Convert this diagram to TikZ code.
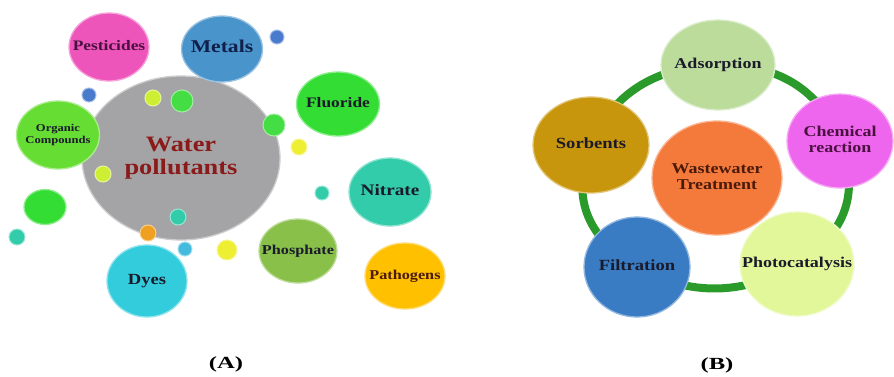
\documentclass[tikz,border=0pt]{standalone}
\usepackage{fontspec}
\setmainfont{Liberation Serif}
\usepackage{graphicx}
\usetikzlibrary{shapes.geometric,backgrounds}
\definecolor{cGray}{HTML}{A4A4A6}
\definecolor{cPest}{HTML}{EE55BB}
\definecolor{cMetal}{HTML}{4A94CC}
\definecolor{cFluor}{HTML}{33DD33}
\definecolor{cOrg}{HTML}{66DD33}
\definecolor{cNitr}{HTML}{33CCAA}
\definecolor{cPhos}{HTML}{88C04A}
\definecolor{cDyes}{HTML}{33CCDD}
\definecolor{cPath}{HTML}{FFC000}
\definecolor{dBlue}{HTML}{4A7ACC}
\definecolor{dYG}{HTML}{CCEE33}
\definecolor{dGreen}{HTML}{44DD44}
\definecolor{dYel}{HTML}{EEEE33}
\definecolor{dTeal}{HTML}{33CCAA}
\definecolor{dOrange}{HTML}{F0A020}
\definecolor{dCyan}{HTML}{44BBDD}
\definecolor{cAds}{HTML}{BCDC9C}
\definecolor{cChem}{HTML}{EE66EE}
\definecolor{cSorb}{HTML}{C8960C}
\definecolor{cWaste}{HTML}{F47A3C}
\definecolor{cFilt}{HTML}{3A7CC4}
\definecolor{cPhoto}{HTML}{E2F79A}
\definecolor{cRing}{HTML}{2A9A2A}
\definecolor{tDark}{HTML}{1A1A2A}
\definecolor{tRed}{HTML}{8B1A1A}
\definecolor{tPurp}{HTML}{4A1040}
\definecolor{tNavy}{HTML}{10204A}
\definecolor{tBrown}{HTML}{4A1A0A}
\newcommand{\wlab}[3]{\scalebox{1.2}[1]{\fontsize{#1}{#2}\selectfont\bfseries\begin{tabular}{@{}c@{}}#3\end{tabular}}}
\tikzset{
  bub/.style={ellipse, inner sep=0pt, fill=#1, draw=#1!55!white, line width=1.3pt},
  dot/.style={circle, inner sep=0pt, fill=#1, draw=#1!50!white, line width=1pt},
  txt/.style={inner sep=0pt, text=#1},
  txt/.default=tDark,
  ring/.style={draw=cRing, line width=8pt},
  captxt/.style={inner sep=0pt, text=black}
}
\begin{document}
\begin{tikzpicture}[x=1pt,y=-1pt]
\useasboundingbox (0,0) rectangle (894,376);
% ---------- Panel A ----------
\node[bub=cGray, minimum width=198pt, minimum height=164pt, label={[txt=tRed]center:\wlab{22}{23}{Water\\pollutants}}] (water) at (181,158) {};
\node[bub=cPest, minimum width=80pt, minimum height=68pt, label={[txt=tPurp]center:\wlab{14.5}{16}{Pesticides}}] (pest) at (109,47) {};
\node[bub=cMetal, minimum width=81pt, minimum height=66pt, label={[txt=tNavy]center:\wlab{18}{19}{Metals}}] (metal) at (222,49) {};
\node[bub=cFluor, minimum width=83pt, minimum height=64pt, label={[txt]center:\wlab{14.5}{16}{Fluoride}}] (fluor) at (338,104) {};
\node[bub=cOrg, minimum width=83pt, minimum height=68pt, label={[txt]center:\wlab{10.5}{12.5}{Organic\\Compounds}}] (org) at (58,135) {};
\node[bub=cNitr, minimum width=82pt, minimum height=68pt, label={[txt]center:\wlab{16}{17}{Nitrate}}] (nitr) at (390,192) {};
\node[bub=cPhos, minimum width=78pt, minimum height=64pt, label={[txt]center:\wlab{13.5}{15}{Phosphate}}] (phos) at (298,251) {};
\node[bub=cDyes, minimum width=80pt, minimum height=72pt, label={[txt]center:\wlab{15.5}{17}{Dyes}}] (dyes) at (147,281) {};
\node[bub=cPath, minimum width=80pt, minimum height=66pt, label={[txt=tBrown]center:\wlab{13.5}{15}{Pathogens}}] (path) at (405,276) {};
\node[bub=cFluor, minimum width=42pt, minimum height=35pt] (gdot) at (45,207) {};
% small dots
\node[dot=dBlue, minimum size=14pt] (d1) at (277,37) {};
\node[dot=dBlue, minimum size=14pt] (d2) at (89,95) {};
\node[dot=dYG, minimum size=16pt] (d3) at (153,98) {};
\node[dot=dGreen, minimum size=22pt] (d4) at (182,101) {};
\node[dot=dGreen, minimum size=22pt] (d5) at (274,125) {};
\node[dot=dYel, minimum size=16pt] (d6) at (299,147) {};
\node[dot=dYG, minimum size=16pt] (d7) at (103,174) {};
\node[dot=dTeal, minimum size=14pt] (d8) at (322,193) {};
\node[dot=dTeal, minimum size=16pt] (d9) at (178,217) {};
\node[dot=dTeal, minimum size=16pt] (d10) at (17,237) {};
\node[dot=dOrange, minimum size=16pt] (d11) at (148,233) {};
\node[dot=dCyan, minimum size=14pt] (d12) at (185,249) {};
\node[dot=dYel, minimum size=20pt] (d13) at (227,250) {};
% ---------- Panel B ----------
\node[bub=cAds, minimum width=114pt, minimum height=90pt, label={[txt]center:\wlab{15}{16}{Adsorption}}] (ads) at (718,65) {};
\node[bub=cChem, minimum width=106pt, minimum height=94pt, label={[txt=tPurp]center:\wlab{15}{16}{Chemical\\reaction}}] (chem) at (840,141) {};
\node[bub=cPhoto, minimum width=114pt, minimum height=104pt, label={[txt]center:\wlab{15}{16}{Photocatalysis}}] (photo) at (797,264) {};
\node[bub=cFilt, minimum width=106pt, minimum height=100pt, label={[txt]center:\wlab{15.5}{16}{Filtration}}] (filt) at (637,267) {};
\node[bub=cSorb, minimum width=116pt, minimum height=96pt, label={[txt]center:\wlab{15.5}{16}{Sorbents}}] (sorb) at (591,145) {};
\node[bub=cWaste, minimum width=130pt, minimum height=114pt, label={[txt=tBrown]center:\wlab{15}{16.5}{Wastewater\\Treatment}}] (waste) at (717,178) {};
\begin{scope}[on background layer]
\draw[ring] plot[smooth cycle, tension=0.9] coordinates {(ads.center) (chem.center) (photo.center) (filt.center) (sorb.center)};
\end{scope}
% captions
\node[captxt] (capA) at (226,364) {\scalebox{1.45}[1]{\fontsize{17}{18}\selectfont\bfseries (A)}};
\node[captxt] (capB) at (717,365) {\scalebox{1.45}[1]{\fontsize{17}{18}\selectfont\bfseries (B)}};
\end{tikzpicture}
\end{document}
